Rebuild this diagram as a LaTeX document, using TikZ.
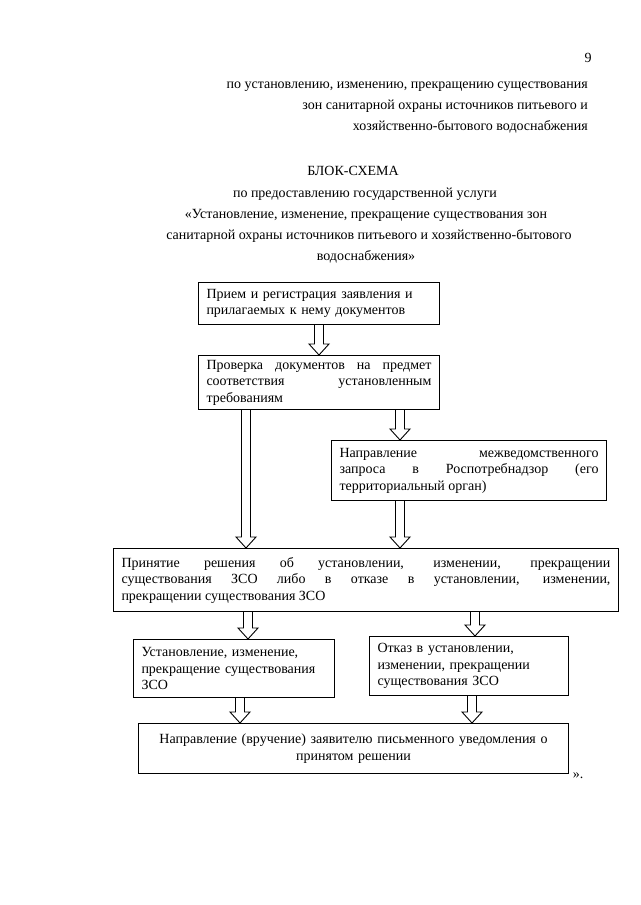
\documentclass[tikz,border=0pt]{standalone}
\usepackage{fontspec}
\setmainfont{Liberation Serif}
\usetikzlibrary{calc}

\newcommand{\boxfont}{\fontsize{14}{16.5}\selectfont}
\newcommand{\headfont}{\fontsize{14}{21}\selectfont}

\tikzset{
  box/.style={draw, line width=1pt, anchor=north west, inner xsep=8pt,
    inner ysep=2pt, font=\boxfont},
  head/.style={inner sep=0pt, font=\headfont},
  blockarrow/.style={line width=0.9pt, to path={
      let \p1=(\tikztostart), \p2=(\tikztotarget) in
      ({\x1-4.5pt},\y1) -- ({\x1-4.5pt},{\y2+11pt}) -- ({\x1-10pt},{\y2+11pt})
      -- (\x1,\y2) -- ({\x1+10pt},{\y2+11pt}) -- ({\x1+4.5pt},{\y2+11pt})
      -- ({\x1+4.5pt},\y1)}}
}

\begin{document}
\begin{tikzpicture}[x=1pt, y=-1pt]
  \useasboundingbox (0,0) rectangle (640,905);

  % page number and header
  \node[head] (pagenum) at (588,58) {9};
  \node[head, anchor=base east] (hdr1) at (588,88)
    {по установлению, изменению, прекращению существования};
  \node[head, anchor=base east] (hdr2) at (588,109)
    {зон санитарной охраны источников питьевого и};
  \node[head, anchor=base east] (hdr3) at (588,130)
    {хозяйственно-бытового водоснабжения};

  % title
  \node[head, anchor=base] (title) at (353,175) {БЛОК-СХЕМА};
  \node[head, anchor=base] (sub1) at (365,197)
    {по предоставлению государственной услуги};
  \node[head, anchor=base] (sub2) at (366,218)
    {«Установление, изменение, прекращение существования зон};
  \node[head, anchor=base] (sub3) at (369,239)
    {санитарной охраны источников питьевого и хозяйственно-бытового};
  \node[head, anchor=base] (sub4) at (366,260) {водоснабжения»};

  % boxes
  \node[box, align=left, text width=225pt, minimum height=42pt] (priem) at (198,282)
    {Прием и регистрация заявления и\\прилагаемых к нему документов};
  \node[box, align=justify, text width=225pt, minimum height=54pt] (proverka) at (198,355)
    {Проверка документов на предмет\linebreak соответствия установленным\linebreak требованиям};
  \node[box, align=justify, text width=259pt, minimum height=60pt] (zapros) at (331,440)
    {Направление межведомственного\linebreak запроса в Роспотребнадзор (его\linebreak территориальный орган)};
  \node[box, align=justify, text width=489pt, minimum height=63pt] (reshenie) at (113,548)
    {Принятие решения об установлении, изменении, прекращении\linebreak существования ЗСО либо в отказе в установлении, изменении,\linebreak прекращении существования ЗСО};
  \node[box, align=left, text width=185pt, minimum height=58pt] (ustan) at (133,639)
    {Установление, изменение,\\прекращение существования\\ЗСО};
  \node[box, align=left, text width=183pt, minimum height=59pt] (otkaz) at (369,636)
    {Отказ в установлении,\\изменении, прекращении\\существования ЗСО};
  \node[box, align=center, text width=414pt, minimum height=50pt] (uvedom) at (138,723)
    {Направление (вручение) заявителю письменного уведомления о\\принятом решении};

  \node[head] (quote) at (578,776) {».};

  % arrow columns
  \coordinate (colA) at (246,0);
  \coordinate (colB) at (400,0);
  \coordinate (colC) at (248,0);
  \coordinate (colD) at (475,0);
  \coordinate (colE) at (240,0);
  \coordinate (colF) at (472,0);

  \draw[blockarrow] (priem.south) to (proverka.north);
  \draw[blockarrow] (proverka.south -| colA) to (reshenie.north -| colA);
  \draw[blockarrow] (proverka.south -| colB) to (zapros.north -| colB);
  \draw[blockarrow] (zapros.south -| colB) to (reshenie.north -| colB);
  \draw[blockarrow] (reshenie.south -| colC) to (ustan.north -| colC);
  \draw[blockarrow] (reshenie.south -| colD) to (otkaz.north -| colD);
  \draw[blockarrow] (ustan.south -| colE) to (uvedom.north -| colE);
  \draw[blockarrow] (otkaz.south -| colF) to (uvedom.north -| colF);
\end{tikzpicture}
\end{document}
